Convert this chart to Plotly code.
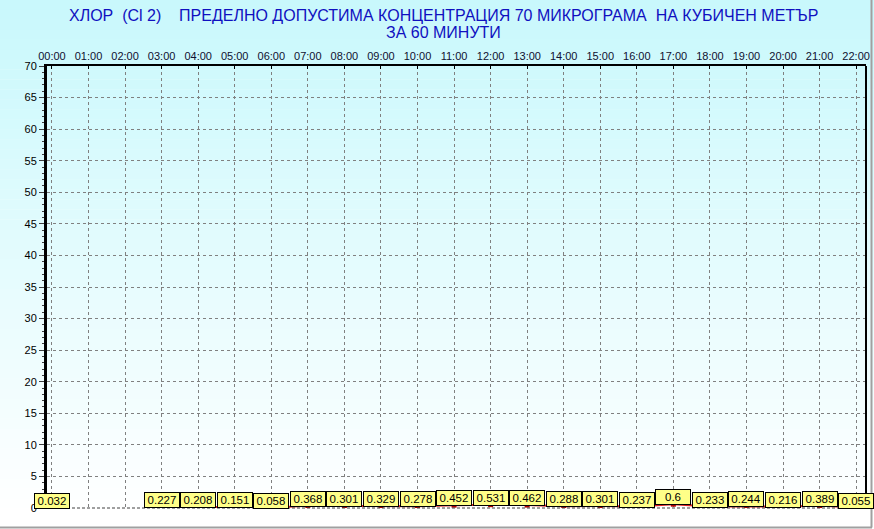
import plotly.graph_objects as go

# ---- data ----
hours = list(range(23))
hour_labels = ["%02d:00" % h for h in hours]
values = [0.032, None, None, 0.227, 0.208, 0.151, 0.058, 0.368, 0.301, 0.329,
          0.278, 0.452, 0.531, 0.462, 0.288, 0.301, 0.237, 0.6, 0.233, 0.244,
          0.216, 0.389, 0.055]
y_ticks = list(range(0, 75, 5))
title_line1 = "ХЛОР\u00a0\u00a0(Cl 2)\u00a0\u00a0\u00a0\u00a0ПРЕДЕЛНО ДОПУСТИМА КОНЦЕНТРАЦИЯ 70 МИКРОГРАМА\u00a0\u00a0НА КУБИЧЕН МЕТЪР"
title_line2 = "ЗА 60 МИНУТИ"

W, H = 874, 529
L, R, T, B = 47, 866, 66, 508


def px(xp):
    return (xp - L) / (R - L)


def py(yp):
    return (B - yp) / (B - T)


fig = go.Figure()

fig.add_trace(go.Scatter(
    x=hours, y=values, mode="lines+markers",
    line=dict(color="#E02020", width=2),
    marker=dict(symbol="square", size=5, color="#B00000"),
    connectgaps=False, hoverinfo="skip", showlegend=False,
))

shapes = []
# vertical gradient background (cyan -> white) over the whole figure
n = 53
top = (200, 248, 252)
bot = (255, 255, 255)
for i in range(n):
    y0 = i * H / n
    y1 = (i + 1) * H / n
    t = min(1.0, (i + 0.5) / (n * 0.97))
    c = tuple(round(top[k] + (bot[k] - top[k]) * t) for k in range(3))
    shapes.append(dict(type="rect", xref="paper", yref="paper",
                       x0=px(0), x1=px(W), y0=py(y1), y1=py(y0) + 0.001,
                       fillcolor="rgb(%d,%d,%d)" % c, line=dict(width=0),
                       layer="below"))
# right border
shapes.append(dict(type="line", xref="paper", yref="paper", x0=1, x1=1, y0=0, y1=1,
                   line=dict(color="black", width=2)))
# bottom border
shapes.append(dict(type="line", xref="paper", yref="paper", x0=0, x1=1, y0=0, y1=0,
                   line=dict(color="#404040", width=1, dash="3px,2px")))
# outer gray frame
shapes.append(dict(type="line", xref="paper", yref="paper", x0=px(0), x1=px(872),
                   y0=py(527.5), y1=py(527.5), line=dict(color="#A0A0A0", width=2)))
shapes.append(dict(type="line", xref="paper", yref="paper", x0=px(871.5), x1=px(871.5),
                   y0=py(0), y1=py(527.5), line=dict(color="#A0A0A0", width=2)))

annotations = []
annotations.append(dict(text=title_line1, xref="paper", yref="paper", x=px(443), y=py(16),
                        xanchor="center", yanchor="middle", showarrow=False,
                        font=dict(family="Liberation Sans, Arial", size=16, color="#1010C0")))
annotations.append(dict(text=title_line2, xref="paper", yref="paper", x=px(443), y=py(32),
                        xanchor="center", yanchor="middle", showarrow=False,
                        font=dict(family="Liberation Sans, Arial", size=16, color="#1010C0")))
for h, v in zip(hours, values):
    if v is None:
        continue
    annotations.append(dict(text=str(v), x=h, y=v, xref="x", yref="y",
                            showarrow=False, xanchor="center", yanchor="middle",
                            yshift=7, width=34, height=14, borderpad=0,
                            bgcolor="#FFFF88", bordercolor="black", borderwidth=1,
                            font=dict(family="Liberation Sans, Arial", size=11.5, color="black")))

fig.update_layout(
    width=W, height=H,
    margin=dict(l=L, r=W - R, t=T, b=H - B, pad=0, autoexpand=False),
    paper_bgcolor="white", plot_bgcolor="rgba(0,0,0,0)",
    shapes=shapes, annotations=annotations, showlegend=False,
    font=dict(family="Liberation Sans, Arial", size=11, color="black"),
    xaxis=dict(range=[-0.136, 22.27], side="top", tickmode="array",
               tickvals=hours, ticktext=hour_labels, showgrid=True,
               gridcolor="#808080", griddash="3px,3px", gridwidth=1,
               showline=True, linecolor="black", linewidth=2,
               ticks="inside", ticklen=3, tickcolor="black",
               tickfont=dict(size=11, color="#101030"), zeroline=False,
               automargin=False, fixedrange=True),
    yaxis=dict(range=[0, 70], tickmode="array", tickvals=y_ticks,
               ticktext=[str(v) for v in y_ticks], showgrid=True,
               gridcolor="#808080", griddash="3px,3px", gridwidth=1,
               showline=True, linecolor="black", linewidth=3,
               ticks="outside", ticklen=5, tickcolor="#404040",
               minor=dict(dtick=1, ticks="outside", ticklen=2, tickcolor="#404040",
                          showgrid=False),
               tickfont=dict(size=11, color="black"), zeroline=False,
               automargin=False, fixedrange=True),
)

fig.write_html("out.html", config={"displayModeBar": False},
               post_script="document.body.style.margin='0';document.body.style.overflow='hidden';")
